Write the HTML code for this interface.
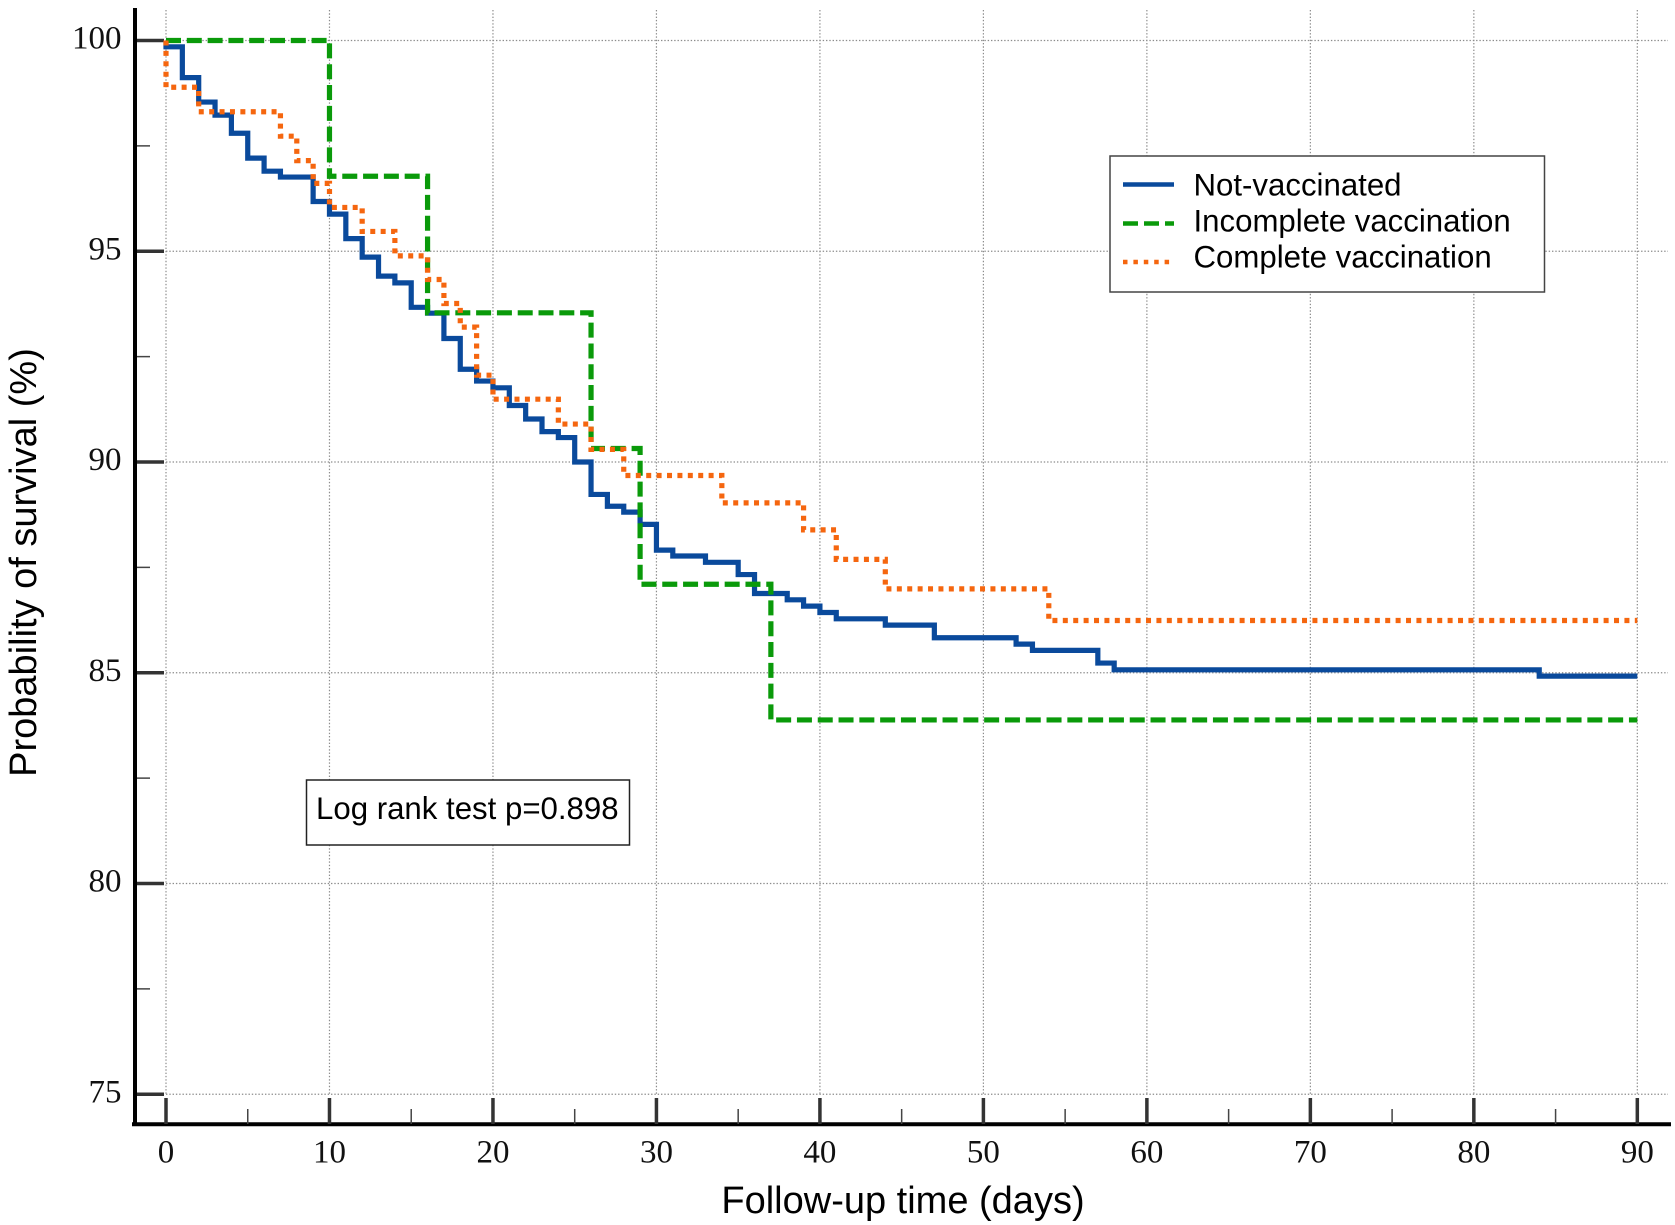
<!DOCTYPE html>
<html lang="en">
<head>
<meta charset="utf-8">
<title>Kaplan-Meier survival by vaccination status</title>
<style>
  html, body { margin: 0; padding: 0; background: #fff; }
  svg { display: block; }
  .tick { font-family: "Liberation Serif", serif; font-size: 33px; fill: #111; }
  .sans { font-family: "Liberation Sans", sans-serif; fill: #000; }
</style>
</head>
<body>
<svg id="chart" xmlns="http://www.w3.org/2000/svg" width="1675" height="1225" viewBox="0 0 1675 1225">
  <rect x="0" y="0" width="1675" height="1225" fill="#fff"/>
  <g id="grid"></g>
  <g id="axes"></g>
  <g id="series"></g>

  <text class="sans" font-size="38" text-anchor="middle" transform="translate(36 562.5) rotate(-90)">Probability of survival (%)</text>
  <text class="sans" font-size="38" text-anchor="middle" x="903" y="1213">Follow-up time (days)</text>

  <g>
    <rect x="1110" y="156" width="434.5" height="136" fill="#fff" stroke="#444" stroke-width="1.5"/>
    <line x1="1123" x2="1174" y1="184.5" y2="184.5" stroke="#0a4a9c" stroke-width="4.5"/>
    <line x1="1123" x2="1174" y1="223.5" y2="223.5" stroke="#0a9a0a" stroke-width="4.5" stroke-dasharray="15 6"/>
    <line x1="1123" x2="1172" y1="262" y2="262" stroke="#f5660f" stroke-width="4.5" stroke-dasharray="4.5 5.9"/>
    <text class="sans" font-size="31.2" x="1193.5" y="195.5">Not-vaccinated</text>
    <text class="sans" font-size="31.2" x="1193.5" y="231.5">Incomplete vaccination</text>
    <text class="sans" font-size="31.2" x="1193.5" y="267.5">Complete vaccination</text>
  </g>

  <g>
    <rect x="306.5" y="780" width="323" height="65" fill="#fff" stroke="#222" stroke-width="1.5"/>
    <text class="sans" font-size="31.2" x="316" y="819">Log rank test p=0.898</text>
  </g>
</svg>

<script>
// Axis ticks
const xMajorTicks = [0, 10, 20, 30, 40, 50, 60, 70, 80, 90];
const xMinorTicks = [5, 15, 25, 35, 45, 55, 65, 75, 85];
const yMajorTicks = [100, 95, 90, 85, 80, 75];
const yMinorTicks = [97.5, 92.5, 87.5, 82.5, 77.5];

// Not-vaccinated
const blueDays = [0, 0, 1, 2, 3, 4, 5, 6, 7, 9, 10, 11, 12, 13, 14, 15, 16, 17, 18, 19, 20, 21, 22, 23, 24, 25, 26, 27, 28, 29, 30, 31, 33, 35, 36, 38, 39, 40, 41, 44, 47, 52, 53, 57, 58, 84, 90];
const blueSurvival = [100, 99.85, 99.12, 98.54, 98.23, 97.8, 97.21, 96.9, 96.76, 96.18, 95.88, 95.3, 94.86, 94.41, 94.25, 93.67, 93.53, 92.93, 92.2, 91.92, 91.76, 91.34, 91.02, 90.72, 90.58, 90.0, 89.23, 88.95, 88.81, 88.52, 87.91, 87.77, 87.62, 87.33, 86.88, 86.73, 86.58, 86.43, 86.28, 86.13, 85.83, 85.68, 85.53, 85.23, 85.07, 84.92, 84.92];

// Incomplete vaccination
const greenDays = [0, 10, 16, 26, 29, 37, 90];
const greenSurvival = [100, 96.78, 93.54, 90.32, 87.1, 83.88, 83.88];

// Complete vaccination
const orangeDays = [0, 0, 2, 7, 8, 9, 10, 12, 14, 16, 17, 18, 19, 20, 24, 26, 28, 34, 39, 41, 44, 54, 90];
const orangeSurvival = [100, 98.89, 98.31, 97.73, 97.15, 96.61, 96.04, 95.47, 94.89, 94.33, 93.76, 93.2, 92.06, 91.49, 90.9, 90.3, 89.68, 89.03, 88.39, 87.69, 86.99, 86.24, 86.24];

const NS = 'http://www.w3.org/2000/svg';
function xScale(day) { return 166 + day * 16.348; }
function yScale(value) { return 40.5 + (100 - value) * 42.15; }

function make(tag, attrs, parent) {
  const el = document.createElementNS(NS, tag);
  for (const k in attrs) el.setAttribute(k, attrs[k]);
  parent.appendChild(el);
  return el;
}

const grid = document.getElementById('grid');
const axes = document.getElementById('axes');
const seriesGroup = document.getElementById('series');

xMajorTicks.forEach(function (t) {
  const line = make('line', { x1: xScale(t), x2: xScale(t), y1: 10, y2: 1094, stroke: '#8c8c8c', 'stroke-width': 1.2, 'stroke-dasharray': '1.4 1.9' }, grid);
  
  
});
yMajorTicks.forEach(function (t) {
  const line = make('line', { x1: 166, x2: 1668, y1: yScale(t), y2: yScale(t), stroke: '#8c8c8c', 'stroke-width': 1.2, 'stroke-dasharray': '1.4 1.9' }, grid);
  
  
});

const yAxisLine = make('line', { x1: 135, x2: 135, y1: 8, y2: 1126, stroke: '#000', 'stroke-width': 4 }, axes);


const xAxisLine = make('line', { x1: 132, x2: 1671, y1: 1124.3, y2: 1124.3, stroke: '#000', 'stroke-width': 4 }, axes);



xMajorTicks.forEach(function (t) {
  const tick = make('line', { x1: xScale(t), x2: xScale(t), y1: 1098, y2: 1124, stroke: '#333', 'stroke-width': 3.5 }, axes);
  
  
  const label = make('text', { x: xScale(t), y: 1162.5, 'text-anchor': 'middle', class: 'tick' }, axes);
  
  
  label.textContent = String(t);
});
xMinorTicks.forEach(function (t) {
  const tick = make('line', { x1: xScale(t), x2: xScale(t), y1: 1109, y2: 1124, stroke: '#444', 'stroke-width': 1.5 }, axes);
  
  
});
yMajorTicks.forEach(function (t) {
  const tick = make('line', { x1: 137, x2: 164, y1: yScale(t), y2: yScale(t), stroke: '#333', 'stroke-width': 3.5 }, axes);
  
  
  const label = make('text', { x: 121.5, y: yScale(t) + 8, 'text-anchor': 'end', class: 'tick' }, axes);
  
  
  label.textContent = String(t);
});
yMinorTicks.forEach(function (t) {
  const tick = make('line', { x1: 137, x2: 150, y1: yScale(t), y2: yScale(t), stroke: '#444', 'stroke-width': 1.5 }, axes);
  
  
});

function stepPath(days, values) {
  let d = 'M' + xScale(days[0]) + ' ' + yScale(values[0]);
  for (let i = 1; i < days.length; i++) {
    d += 'H' + xScale(days[i]) + 'V' + yScale(values[i]);
  }
  return d;
}

const bluePath = make('path', { d: stepPath(blueDays, blueSurvival), fill: 'none', stroke: '#0a4a9c', 'stroke-width': 5.2, 'stroke-linejoin': 'miter' }, seriesGroup);


const greenPath = make('path', { d: stepPath(greenDays, greenSurvival), fill: 'none', stroke: '#0a9a0a', 'stroke-width': 5.2, 'stroke-dasharray': '15 5.8' }, seriesGroup);


const orangePath = make('path', { d: stepPath(orangeDays, orangeSurvival), fill: 'none', stroke: '#f5660f', 'stroke-width': 5.2, 'stroke-dasharray': '5 5.4' }, seriesGroup);


</script>
</body>
</html>
